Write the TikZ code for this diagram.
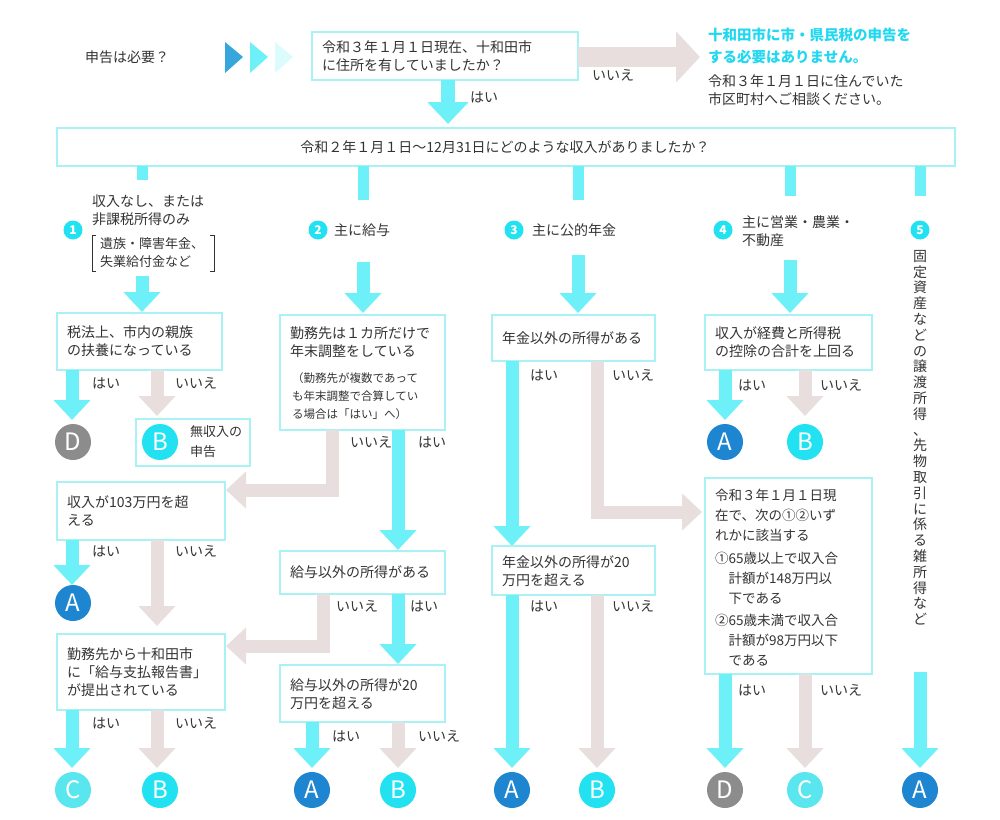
\documentclass[tikz,border=0pt]{standalone}
\usepackage{fontspec}
\setmainfont{Noto Sans CJK JP}
\usetikzlibrary{arrows.meta}
\definecolor{cy}{HTML}{6EF0F8}
\definecolor{gr}{HTML}{E8DEDE}
\definecolor{bx}{HTML}{A8F2F6}
\definecolor{cA}{HTML}{1E86D0}
\definecolor{cB}{HTML}{22E2F2}
\definecolor{cC}{HTML}{5AE6EE}
\definecolor{cD}{HTML}{8C8C8C}
\definecolor{txt}{HTML}{333333}
\definecolor{cyt}{HTML}{22D8F0}
\begin{document}
\begin{tikzpicture}[x=1pt,y=-1pt,font=\fontsize{14}{18}\selectfont\color{txt},
 yes/.style={draw=cy,line width=13pt,-{Triangle[width=36pt,length=20pt]}},
 no/.style={draw=gr,line width=13pt,-{Triangle[width=36pt,length=20pt]}},
 box/.style={draw=bx,line width=1.2pt,fill=white},
 t/.style={anchor=west,inner sep=0pt},
 lab/.style={anchor=west,inner sep=0pt,font=\fontsize{14}{16}\selectfont\color{txt}},
 circ/.style={circle,minimum size=36pt,inner sep=0pt,text=white,font=\fontsize{24}{24}\selectfont},
 num/.style={circle,fill=cB,minimum size=19pt,inner sep=0pt,text=white,font=\fontsize{12}{12}\selectfont\bfseries}]
\useasboundingbox (0,0) rectangle (1000,819);
% header
\node[t] (q0) at (85,57) {申告は必要？};
\fill[cA!70!cy] (225,42) -- (243,57) -- (225,73) -- cycle;
\fill[cy] (250,42) -- (268,57) -- (250,73) -- cycle;
\fill[cy!25] (275,42) -- (293,57) -- (275,73) -- cycle;
\draw[box] (312,32) rectangle (578,80);
\node[t,align=left] (q1) at (322,56) {令和３年１月１日現在、十和田市\\に住所を有していましたか？};
\coordinate (q1e) at (578,57);
\coordinate (rt) at (700,57);
\draw[draw=gr,line width=20pt,-{Triangle[width=50pt,length=24pt]}] (q1e) -- (rt);
\node[lab] (n0) at (592,75) {いいえ};
\node[t,align=left,font=\fontsize{14.5}{22}\selectfont\bfseries\color{cyt}] (r1) at (708,46) {十和田市に市・県民税の申告を\\する必要はありません。};
\node[t,align=left] (r2) at (708,90) {令和３年１月１日に住んでいた\\市区町村へご相談ください。};
\coordinate (d0a) at (448,80); \coordinate (d0b) at (448,124);
\draw[draw=cy,line width=14pt,-{Triangle[width=40pt,length=22pt]}] (d0a) -- (d0b);
\node[lab] (y0) at (470,97) {はい};
\draw[box] (57,128) rectangle (955,166);
\node (q2) at (505,147) {令和２年１月１日〜12月31日にどのような収入がありましたか？};
% stubs
\foreach \x/\e in {142/180,363/200,578/200,790/196,920/196}
  \draw[draw=cy,line width=11pt] (\x,166) -- (\x,\e);
% column 1
\node[num] (k1) at (73,230) {1};
\node[t,align=left] (c1) at (92,210) {収入なし、または\\非課税所得のみ};
\node[t,align=left,font=\fontsize{13}{18}\selectfont\color{txt}] (c1b) at (100,253) {遺族・障害年金、\\失業給付金など};
\draw[txt,line width=0.7pt] (96,235) -- (92,235) -- (92,271) -- (96,271);
\draw[txt,line width=0.7pt] (210,235) -- (214,235) -- (214,271) -- (210,271);
\coordinate (a1) at (142,276); \coordinate (a1e) at (142,312);
\draw[yes] (a1) -- (a1e);
\draw[box] (57,313) rectangle (222,370);
\node[t,align=left] (b11) at (67,341) {税法上、市内の親族\\の扶養になっている};
\draw[yes] (72,370) -- (72,420); \node[lab] at (92,383) {はい};
\draw[no] (157,370) -- (157,416); \node[lab] at (175,383) {いいえ};
\node[circ,fill=cD] (D1) at (73,442) {D};
\draw[box] (136,419) rectangle (250,466);
\node[circ,fill=cB] (B1) at (160,442) {B};
\node[t,align=left,font=\fontsize{13}{20}\selectfont\color{txt}] (B1t) at (190,442) {無収入の\\申告};
\draw[box] (57,482) rectangle (225,540);
\node[t,align=left] (b12) at (67,511) {収入が103万円を超\\える};
\draw[yes] (72,540) -- (72,585); \node[lab] at (92,551) {はい};
\draw[no] (157,540) -- (157,626); \node[lab] at (175,551) {いいえ};
\node[circ,fill=cA] (A1) at (73,603) {A};
\draw[box] (57,634) rectangle (225,710);
\node[t,align=left] (b13) at (67,672) {勤務先から十和田市\\に「給与支払報告書」\\が提出されている};
\draw[yes] (72,710) -- (72,768); \node[lab] at (92,723) {はい};
\draw[no] (157,710) -- (157,768); \node[lab] at (175,723) {いいえ};
\node[circ,fill=cC] (C1) at (73,790) {C};
\node[circ,fill=cB] (B1b) at (160,790) {B};
% column 2
\node[num] (k2) at (318,230) {2};
\node[t] (c2) at (334,230) {主に給与};
\draw[yes] (363,262) -- (363,313);
\draw[box] (280,315) rectangle (445,430);
\node[t,align=left] (b21) at (290,342) {勤務先は１カ所だけで\\年末調整をしている};
\node[t,align=left,font=\fontsize{11.5}{18}\selectfont\color{txt}] (b21s) at (292,396) {（勤務先が複数であって\\も年末調整で合算してい\\る場合は「はい」へ）};
\draw[no] (332,430) -- (332,490) -- (226,490);
\node[lab] at (350,442) {いいえ};
\draw[yes] (398,430) -- (398,550); \node[lab] at (418,442) {はい};
\draw[box] (280,551) rectangle (445,594);
\node[t] (b22) at (290,572) {給与以外の所得がある};
\draw[no] (323,594) -- (323,646) -- (226,646);
\node[lab] at (336,606) {いいえ};
\draw[yes] (398,594) -- (398,664); \node[lab] at (410,606) {はい};
\draw[box] (280,665) rectangle (445,722);
\node[t,align=left] (b23) at (290,694) {給与以外の所得が20\\万円を超える};
\draw[yes] (312,722) -- (312,768); \node[lab] at (332,736) {はい};
\draw[no] (398,722) -- (398,768); \node[lab] at (418,736) {いいえ};
\node[circ,fill=cA] (A2) at (312,790) {A};
\node[circ,fill=cB] (B2) at (398,790) {B};
% column 3
\node[num] (k3) at (514,230) {3};
\node[t] (c3) at (532,230) {主に公的年金};
\draw[yes] (578,255) -- (578,313);
\draw[box] (492,315) rectangle (655,361);
\node[t] (b31) at (502,338) {年金以外の所得がある};
\draw[yes] (512,361) -- (512,546); \node[lab] at (530,375) {はい};
\draw[no] (597,361) -- (597,512) -- (702,512); \node[lab] at (612,375) {いいえ};
\draw[box] (492,546) rectangle (655,595);
\node[t,align=left] (b32) at (502,571) {年金以外の所得が20\\万円を超える};
\draw[yes] (512,595) -- (512,768); \node[lab] at (530,606) {はい};
\draw[no] (597,595) -- (597,768); \node[lab] at (612,606) {いいえ};
\node[circ,fill=cA] (A3) at (512,790) {A};
\node[circ,fill=cB] (B3) at (597,790) {B};
% column 4
\node[num] (k4) at (723,230) {4};
\node[t,align=left] (c4) at (742,231) {主に営業・農業・\\不動産};
\draw[yes] (790,260) -- (790,313);
\draw[box] (705,315) rectangle (872,370);
\node[t,align=left] (b41) at (715,342) {収入が経費と所得税\\の控除の合計を上回る};
\draw[yes] (725,370) -- (725,420); \node[lab] at (738,385) {はい};
\draw[no] (805,370) -- (805,416); \node[lab] at (820,385) {いいえ};
\node[circ,fill=cA] (A4) at (725,442) {A};
\node[circ,fill=cB] (B4) at (805,442) {B};
\draw[box] (705,478) rectangle (872,674);
\node[t,align=left,font=\fontsize{13.5}{20}\selectfont\color{txt}] (b42) at (715,515) {令和３年１月１日現\\在で、次の①②いず\\れかに該当する};
\node[t,align=left,font=\fontsize{13.5}{20}\selectfont\color{txt}] (b43) at (715,578) {①65歳以上で収入合\\\hspace*{1em}計額が148万円以\\\hspace*{1em}下である};
\node[t,align=left,font=\fontsize{13.5}{20}\selectfont\color{txt}] (b44) at (715,640) {②65歳未満で収入合\\\hspace*{1em}計額が98万円以下\\\hspace*{1em}である};
\draw[yes] (725,674) -- (725,768); \node[lab] at (738,690) {はい};
\draw[no] (805,674) -- (805,768); \node[lab] at (820,690) {いいえ};
\node[circ,fill=cD] (D4) at (725,790) {D};
\node[circ,fill=cC] (C4) at (805,790) {C};
% column 5
\node[num] (k5) at (920,230) {5};
\node[anchor=north,inner sep=0pt,align=center,font=\fontsize{14}{15.8}\selectfont\color{txt}] (c5) at (920,250)
 {固\\定\\資\\産\\な\\ど\\の\\譲\\渡\\所\\得\\、\\先\\物\\取\\引\\に\\係\\る\\雑\\所\\得\\な\\ど};
\draw[yes] (920,672) -- (920,768);
\node[circ,fill=cA] (A5) at (920,790) {A};
\end{tikzpicture}
\end{document}
